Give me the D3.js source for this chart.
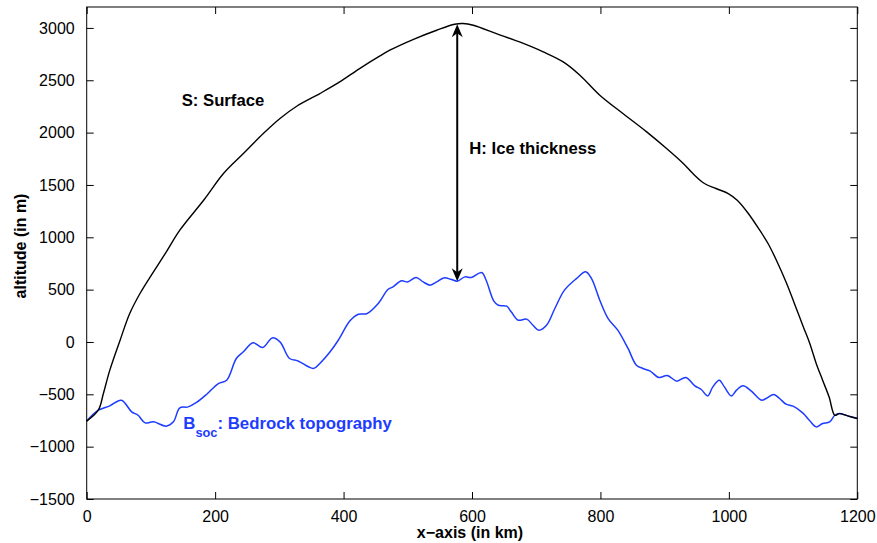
<!DOCTYPE html>
<html><head><meta charset="utf-8">
<script src="https://cdn.jsdelivr.net/npm/d3@7"></script>
<style>body{margin:0;background:#fff;} text{font-family:"Liberation Sans",Arial,Helvetica,sans-serif;}</style>
</head><body><svg id="c" width="877" height="543"></svg>
<script>
// ---- data ----
const xTicks = [0, 200, 400, 600, 800, 1000, 1200];
const yTicks = [-1500, -1000, -500, 0, 500, 1000, 1500, 2000, 2500, 3000];

const bedrockX = [0, 18, 36, 54, 70, 80, 91, 104, 124, 135, 145, 158, 171, 187, 205, 218, 233, 244, 259, 274, 289, 301, 316, 329, 353, 363, 379, 392, 410, 423, 436, 454, 469, 477, 490, 500, 513, 524, 535, 545, 556, 568, 577, 589, 599, 615, 622, 634, 641, 654, 661, 672, 685, 695, 704, 716, 729, 744, 763, 777, 786, 799, 812, 827, 843, 856, 866, 877, 891, 904, 919, 933, 947, 957, 967, 975, 985, 993, 1004, 1012, 1022, 1035, 1051, 1058, 1070, 1079, 1089, 1100, 1115, 1126, 1136, 1146, 1157, 1165, 1172, 1185, 1200];
const bedrockY = [-756, -652, -610, -556, -667, -700, -773, -763, -804, -763, -629, -620, -578, -499, -397, -365, -158, -94, -8, -53, 39, 1, -158, -181, -253, -205, -94, 19, 202, 265, 270, 368, 501, 526, 584, 574, 616, 574, 543, 574, 612, 597, 581, 622, 616, 664, 590, 390, 351, 342, 288, 208, 218, 160, 113, 160, 320, 495, 607, 670, 607, 399, 224, 113, -62, -222, -253, -276, -339, -320, -374, -339, -419, -454, -515, -429, -365, -429, -515, -460, -419, -470, -556, -540, -502, -540, -594, -613, -677, -753, -811, -779, -763, -700, -684, -706, -731];

const surfaceX = [0, 18, 26, 36, 52, 67, 83, 104, 124, 145, 183, 213, 244, 275, 301, 327, 363, 394, 425, 456, 472, 508, 545, 573, 586, 602, 638, 674, 711, 742, 768, 799, 835, 872, 903, 929, 944, 962, 980, 999, 1013, 1030, 1048, 1061, 1074, 1090, 1102, 1116, 1126, 1136, 1146, 1156, 1165, 1172, 1185, 1200];
const surfaceY = [-756, -652, -492, -269, 17, 272, 463, 670, 861, 1068, 1361, 1609, 1800, 1991, 2135, 2252, 2373, 2484, 2612, 2730, 2787, 2889, 2978, 3035, 3042, 3026, 2946, 2866, 2771, 2675, 2548, 2357, 2182, 2007, 1848, 1705, 1609, 1514, 1466, 1418, 1354, 1230, 1068, 941, 781, 559, 368, 144, -14, -205, -365, -524, -700, -684, -706, -731];

const arrowX = 577;
const arrowTop = 3035;
const arrowBottom = 581;

// ---- layout ----
const svg = d3.select("#c");
const L = 86.7, R = 857.3, T = 7, B = 499;
const x = d3.scaleLinear().domain([0, 1200]).range([L, R]);
const y = d3.scaleLinear().domain([-1500, 3200]).range([B, T]);
const blue = "#1e3cff";

const g = svg.append("g");

// curves
const bed = bedrockX.map((v, i) => [v, bedrockY[i]]);
const surf = surfaceX.map((v, i) => [v, surfaceY[i]]);
const line = d3.line().x(d => x(d[0])).y(d => y(d[1])).curve(d3.curveCatmullRom.alpha(0.5));

g.append("path").attr("d", line(bed)).attr("fill", "none").attr("stroke", blue).attr("stroke-width", 1.5);
g.append("path").attr("d", line(surf)).attr("fill", "none").attr("stroke", "#000").attr("stroke-width", 1.4);

// arrow
const ax = x(arrowX), ay1 = y(arrowTop), ay2 = y(arrowBottom);
g.append("line").attr("x1", ax).attr("x2", ax).attr("y1", ay1 + 8).attr("y2", ay2 - 8)
  .attr("stroke", "#000").attr("stroke-width", 2);
const head = (tx, ty, dir) => `M${tx},${ty} L${tx - 5.5},${ty + dir * 13} L${tx},${ty + dir * 9} L${tx + 5.5},${ty + dir * 13} Z`;
g.append("path").attr("d", head(ax, ay1, 1)).attr("fill", "#000");
g.append("path").attr("d", head(ax, ay2, -1)).attr("fill", "#000");

// frame
svg.append("rect").attr("x", L).attr("y", T).attr("width", R - L).attr("height", B - T)
  .attr("fill", "none").attr("stroke", "#000").attr("stroke-width", 1);

// axes with inward ticks
const xAxisB = d3.axisBottom(x).tickValues(xTicks).tickSizeInner(-7).tickSizeOuter(0).tickPadding(12).tickFormat(d3.format("d"));
const xAxisT = d3.axisTop(x).tickValues(xTicks).tickSizeInner(-7).tickSizeOuter(0).tickFormat("");
const fmtY = d => d < 0 ? "\u2212" + Math.abs(d) : String(d);
const yAxisL = d3.axisLeft(y).tickValues(yTicks).tickSizeInner(-7).tickSizeOuter(0).tickPadding(12).tickFormat(fmtY);
const yAxisR = d3.axisRight(y).tickValues(yTicks).tickSizeInner(-7).tickSizeOuter(0).tickFormat("");

function style(sel) {
  sel.select(".domain").remove();
  sel.selectAll("line").attr("stroke", "#000");
  sel.selectAll("text").attr("font-size", 16).attr("fill", "#000").attr("font-family", "Liberation Sans, Arial, sans-serif");
}
svg.append("g").attr("transform", `translate(0,${B})`).call(xAxisB).call(style);
svg.append("g").attr("transform", `translate(0,${T})`).call(xAxisT).call(style);
svg.append("g").attr("transform", `translate(${L},0)`).call(yAxisL).call(style);
svg.append("g").attr("transform", `translate(${R},0)`).call(yAxisR).call(style);

// axis labels
svg.append("text").attr("x", 470).attr("y", 538).attr("text-anchor", "middle")
  .attr("font-size", 16).attr("font-weight", "bold").text("x\u2212axis (in km)");
svg.append("text").attr("transform", "translate(26,246) rotate(-90)").attr("text-anchor", "middle")
  .attr("font-size", 16).attr("font-weight", "bold").text("altitude (in m)");

// annotations
svg.append("text").attr("x", 181.7).attr("y", 106).attr("font-size", 16.7).attr("font-weight", "bold").text("S: Surface");
svg.append("text").attr("x", 469.3).attr("y", 154).attr("font-size", 16.7).attr("font-weight", "bold").text("H: Ice thickness");
const bt = svg.append("text").attr("x", 183.3).attr("y", 429).attr("font-size", 16.8).attr("font-weight", "bold").attr("fill", blue);
bt.append("tspan").text("B");
bt.append("tspan").attr("dy", 8).attr("font-size", 12.8).text("soc");
bt.append("tspan").attr("dy", -8).text(": Bedrock topography");
</script></body></html>
